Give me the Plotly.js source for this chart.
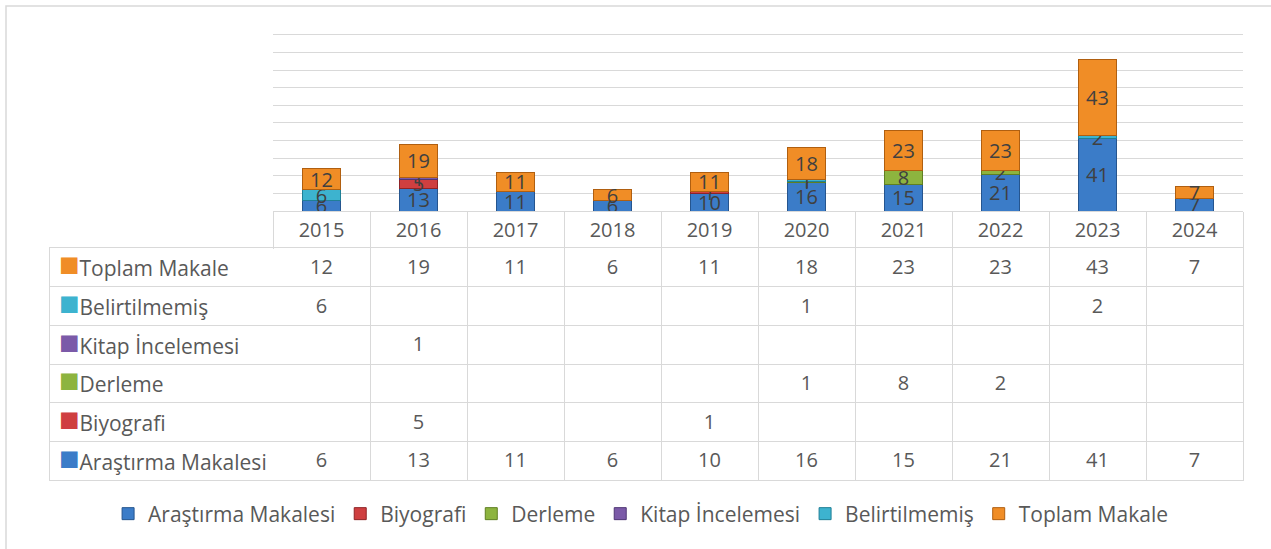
<!DOCTYPE html>
<html>
<head>
<meta charset="utf-8">
<script src="https://cdn.plot.ly/plotly-3.0.1.min.js"></script>
<style>
  html, body { margin: 0; padding: 0; background: #ffffff; }
  #chart { width: 1271px; height: 549px; }
</style>
</head>
<body>
<div id="chart"></div>
<script>
// ---- data ----
var years = ['2015', '2016', '2017', '2018', '2019', '2020', '2021', '2022', '2023', '2024'];
var seriesNames = ['Araştırma Makalesi', 'Biyografi', 'Derleme', 'Kitap İncelemesi', 'Belirtilmemiş', 'Toplam Makale'];
var arastirma = [6, 13, 11, 6, 10, 16, 15, 21, 41, 7];
var biyografi = [null, 5, null, null, 1, null, null, null, null, null];
var derleme = [null, null, null, null, null, 1, 8, 2, null, null];
var kitap = [null, 1, null, null, null, null, null, null, null, null];
var belirtilmemis = [6, null, null, null, null, 1, null, null, 2, null];
var toplam = [12, 19, 11, 6, 11, 18, 23, 23, 43, 7];

// ---- styling ----
var seriesData = [arastirma, biyografi, derleme, kitap, belirtilmemis, toplam];
var colors = ['#3b7cc8', '#cf3f40', '#8db43f', '#7b5aa8', '#3db3cf', '#f08d26'];
var edge = ['#25558f', '#8f2326', '#5f7f22', '#4f3675', '#1f7f96', '#b05f10'];
var FONT = 'Open Sans, Noto Sans, sans-serif';
var GRID = '#d9d9d9';
var W = 1271, H = 549;
var px = function (x) { return x / W; };
var py = function (y) { return 1 - y / H; };

var traces = seriesNames.map(function (name, i) {
  return {
    type: 'bar',
    name: name,
    x: years,
    y: seriesData[i],
    xaxis: 'x', yaxis: 'y',
    text: seriesData[i].map(function (v) { return v == null ? '' : String(v); }),
    textposition: 'inside',
    insidetextanchor: 'middle',
    textangle: 0,
    constraintext: 'none',
    textfont: { family: FONT, size: 20, color: '#404040' },
    marker: { color: colors[i], line: { color: edge[i], width: 1 } },
    hoverinfo: 'x+y+name'
  };
});

// data table values drawn as text on a year x row grid
var tx = [], ty = [], tt = [];
seriesNames.forEach(function (name, i) {
  years.forEach(function (yr, j) {
    var v = seriesData[i][j];
    if (v != null) { tx.push(yr); ty.push(name); tt.push(String(v)); }
  });
});
traces.push({
  type: 'scatter', mode: 'text',
  x: tx, y: ty, text: tt,
  xaxis: 'x4', yaxis: 'y4',
  textposition: 'middle center',
  textfont: { family: FONT, size: 20, color: '#595959' },
  cliponaxis: false,
  showlegend: false, hoverinfo: 'skip'
});
// empty helper traces that create the grid / frame subplots of the table
traces.push({ type: 'scatter', mode: 'markers', x: [], y: [], xaxis: 'x2', yaxis: 'y2', showlegend: false, hoverinfo: 'skip' });
traces.push({ type: 'scatter', mode: 'markers', x: [], y: [], xaxis: 'x3', yaxis: 'y2', showlegend: false, hoverinfo: 'skip' });
traces.push({ type: 'scatter', mode: 'markers', x: [], y: [], xaxis: 'x3', yaxis: 'y4', showlegend: false, hoverinfo: 'skip' });

var rowLabels = seriesNames.map(function (name, i) {
  return '<span style="color:' + colors[i] + ';font-size:34px">■</span>' + name;
});

var TEXT_SHIFT = 2.5; // table texts sit slightly lower than the plain text centre

var layout = {
  width: W,
  height: H,
  margin: { l: 0, r: 0, t: 0, b: 0 },
  paper_bgcolor: '#ffffff',
  plot_bgcolor: 'rgba(0,0,0,0)',
  barmode: 'stack',
  bargap: 0.6,
  uniformtext: { mode: 'show', minsize: 20 },
  font: { family: FONT, size: 21, color: '#595959' },
  xaxis: {
    type: 'category',
    domain: [px(273), px(1243)],
    anchor: 'y',
    showline: true,
    linecolor: GRID,
    linewidth: 1,
    ticks: 'outside',
    tickson: 'boundaries',
    ticklen: 37,
    tickcolor: GRID,
    tickwidth: 1,
    ticklabelstandoff: 1,
    tickfont: { family: FONT, size: 20, color: '#595959' },
    showgrid: false,
    fixedrange: true
  },
  yaxis: {
    domain: [py(211), py(33.9)],
    anchor: 'x',
    range: [0, 100.6],
    tickvals: [10, 20, 30, 40, 50, 60, 70, 80, 90, 100],
    showticklabels: false,
    showgrid: true,
    gridcolor: GRID,
    gridwidth: 1,
    zeroline: false,
    fixedrange: true
  },
  // table grid: vertical lines
  xaxis2: {
    type: 'category',
    categoryorder: 'array',
    categoryarray: years,
    domain: [px(273), px(1243)],
    anchor: 'y2',
    range: [-0.5, 9.5],
    showgrid: true,
    tickson: 'boundaries',
    gridcolor: GRID,
    gridwidth: 1,
    ticks: '',
    showticklabels: false,
    zeroline: false,
    showline: false,
    fixedrange: true
  },
  // table frame incl. row-label column
  xaxis3: {
    domain: [px(50), px(1243)],
    anchor: 'y2',
    range: [0, 1],
    showgrid: false,
    showticklabels: false,
    zeroline: false,
    showline: true,
    mirror: true,
    linecolor: GRID,
    linewidth: 1,
    fixedrange: true
  },
  // table grid: horizontal lines
  yaxis2: {
    type: 'category',
    categoryorder: 'array',
    categoryarray: seriesNames,
    domain: [py(480), py(248)],
    anchor: 'x3',
    range: [-0.5, 5.5],
    showticklabels: false,
    ticks: '',
    showgrid: true,
    tickson: 'boundaries',
    gridcolor: GRID,
    gridwidth: 1,
    zeroline: false,
    showline: true,
    mirror: true,
    linecolor: GRID,
    linewidth: 1,
    fixedrange: true
  },
  // table text placement
  xaxis4: {
    type: 'category',
    categoryorder: 'array',
    categoryarray: years,
    domain: [px(273), px(1243)],
    anchor: 'y4',
    range: [-0.5, 9.5],
    showgrid: false,
    showticklabels: false,
    ticks: '',
    zeroline: false,
    showline: false,
    fixedrange: true
  },
  yaxis4: {
    type: 'category',
    categoryorder: 'array',
    categoryarray: seriesNames,
    domain: [py(479 + TEXT_SHIFT), py(247 + TEXT_SHIFT)],
    anchor: 'x3',
    range: [-0.5, 5.5],
    tickvals: seriesNames,
    ticktext: rowLabels,
    ticks: '',
    ticklabelposition: 'inside',
    ticklabeloverflow: 'allow',
    ticklabelstandoff: 6,
    tickfont: { family: FONT, size: 21, color: '#595959' },
    showgrid: false,
    zeroline: false,
    showline: false,
    fixedrange: true
  },
  legend: {
    orientation: 'h',
    x: 0.504,
    xanchor: 'center',
    y: py(514),
    yanchor: 'middle',
    font: { family: FONT, size: 21, color: '#595959' },
    itemwidth: 30,
    traceorder: 'normal'
  },
  shapes: [{
    type: 'rect', xref: 'paper', yref: 'paper',
    x0: px(6), x1: 1.02, y0: -0.02, y1: py(6),
    line: { color: GRID, width: 1.5 }, fillcolor: 'rgba(0,0,0,0)', layer: 'below'
  }]
};

Plotly.newPlot('chart', traces, layout, { displayModeBar: false, staticPlot: true });
</script>
</body>
</html>
